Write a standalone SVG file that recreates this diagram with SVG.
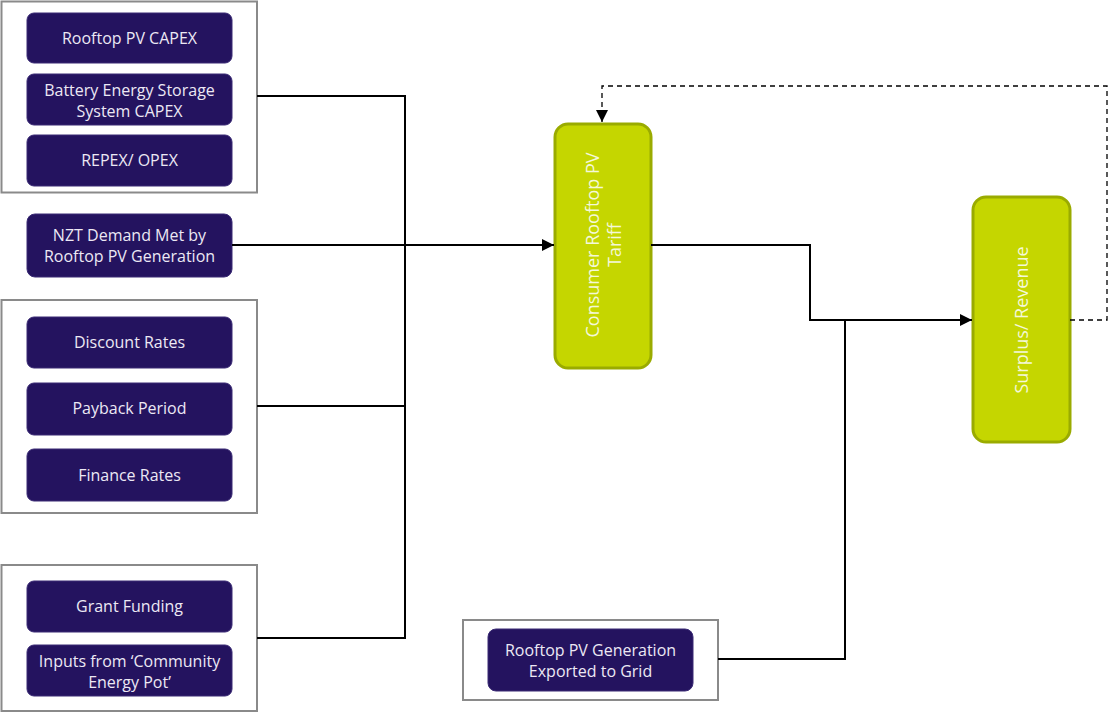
<svg xmlns="http://www.w3.org/2000/svg" width="1109" height="712" viewBox="0 0 1109 712">
<defs>
<marker id="arr" viewBox="0 0 10 10" refX="10" refY="5" markerWidth="12" markerHeight="12" markerUnits="userSpaceOnUse" orient="auto">
<path d="M0,0 L10,5 L0,10 Z" fill="#000"/>
</marker>
<style>
.grp{fill:#fff;stroke:#8a8a8a;stroke-width:2}
.pb{fill:#24135f;stroke:#3a2a75;stroke-width:1}
.gb{fill:#c5d600;stroke:#9aab00;stroke-width:3}
.t{font-family:"Open Sans","Noto Sans",sans-serif;font-size:16px;fill:#ece8f4;text-anchor:middle}
.tg{font-family:"Open Sans","Noto Sans",sans-serif;font-size:18px;fill:#f4f8d8;text-anchor:middle}
.ln{fill:none;stroke:#000;stroke-width:2}
.dl{fill:none;stroke:#000;stroke-width:1.3;stroke-dasharray:5,4}
</style>
</defs>
<g id="group-capex">
<rect class="grp" x="1.5" y="1.5" width="255.5" height="191"/>
<g id="n-rooftop-capex"><rect class="pb" x="27" y="13" width="205" height="50" rx="7"/><text class="t" x="129.5" y="44">Rooftop PV CAPEX</text></g>
<g id="n-bess-capex"><rect class="pb" x="27" y="74" width="205" height="51" rx="7"/><text class="t" x="129.5" y="96">Battery Energy Storage</text><text class="t" x="129.5" y="117">System CAPEX</text></g>
<g id="n-repex"><rect class="pb" x="27" y="135" width="205" height="51" rx="7"/><text class="t" x="129.5" y="166">REPEX/ OPEX</text></g>
</g>
<g id="n-nzt"><rect class="pb" x="27" y="214" width="205" height="63" rx="8"/><text class="t" x="129.5" y="241">NZT Demand Met by</text><text class="t" x="129.5" y="262">Rooftop PV Generation</text></g>
<g id="group-finance">
<rect class="grp" x="1.5" y="300" width="255.5" height="213"/>
<g id="n-discount"><rect class="pb" x="27" y="317" width="205" height="51" rx="7"/><text class="t" x="129.5" y="348">Discount Rates</text></g>
<g id="n-payback"><rect class="pb" x="27" y="383" width="205" height="52" rx="7"/><text class="t" x="129.5" y="414">Payback Period</text></g>
<g id="n-finance"><rect class="pb" x="27" y="449" width="205" height="52" rx="7"/><text class="t" x="129.5" y="481">Finance Rates</text></g>
</g>
<g id="group-grant">
<rect class="grp" x="1.5" y="565" width="255.5" height="146"/>
<g id="n-grant"><rect class="pb" x="27" y="581" width="205" height="51" rx="7"/><text class="t" x="129.5" y="612">Grant Funding</text></g>
<g id="n-inputs"><rect class="pb" x="27" y="645" width="205" height="51" rx="7"/><text class="t" x="129.5" y="667">Inputs from ‘Community</text><text class="t" x="129.5" y="688">Energy Pot’</text></g>
</g>
<g id="group-grid">
<rect class="grp" x="463" y="620" width="255" height="80"/>
<g id="n-exported"><rect class="pb" x="488" y="629" width="205" height="62" rx="8"/><text class="t" x="590.5" y="656">Rooftop PV Generation</text><text class="t" x="590.5" y="677">Exported to Grid</text></g>
</g>
<g id="n-tariff"><rect class="gb" x="555" y="124" width="96" height="244" rx="13"/><text class="tg" transform="translate(599,245) rotate(-90)">Consumer Rooftop PV</text><text class="tg" transform="translate(621,245) rotate(-90)">Tariff</text></g>
<g id="n-surplus"><rect class="gb" x="973" y="197" width="97" height="245" rx="13"/><text class="tg" transform="translate(1028,320) rotate(-90)">Surplus/ Revenue</text></g>
<g id="connectors">
<polyline class="ln" points="257,96 405,96 405,638 257,638"/>
<line class="ln" x1="257" y1="406" x2="405" y2="406"/>
<line class="ln" x1="232" y1="245" x2="554" y2="245" marker-end="url(#arr)"/>
<polyline class="ln" points="651,245 810,245 810,320 972,320" marker-end="url(#arr)"/>
<polyline class="ln" points="718,659 845,659 845,320"/>
<polyline class="dl" points="1070,320 1107,320 1107,86 602,86 602,122" marker-end="url(#arr)"/>
</g>
</svg>
